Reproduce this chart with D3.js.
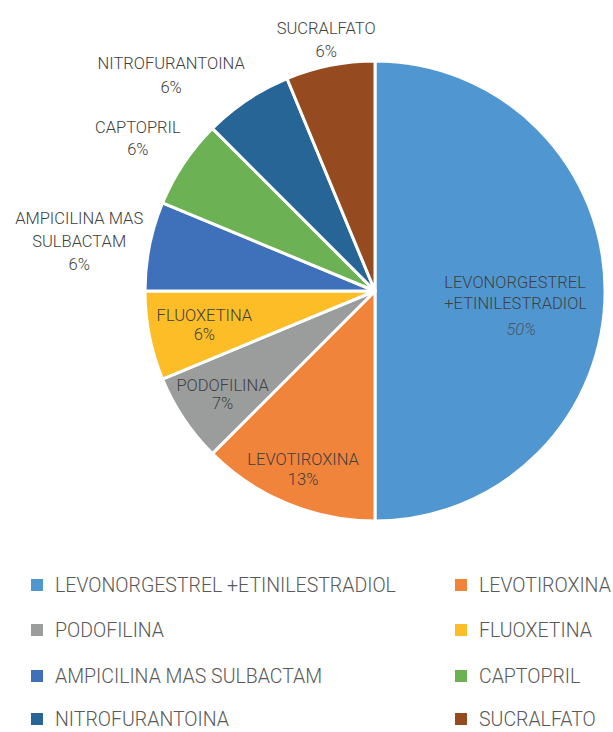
<!DOCTYPE html>
<html>
<head>
<meta charset="utf-8">
<script src="https://cdn.jsdelivr.net/npm/d3@7"></script>
<style>
  html, body { margin: 0; padding: 0; background: #fff; }
  svg { display: block; font-family: Roboto, "Noto Sans", sans-serif; font-weight: 300; }
</style>
</head>
<body>
<svg id="chart" width="613" height="732"></svg>
<script>
// Data
const categories = [
  "LEVONORGESTREL +ETINILESTRADIOL",
  "LEVOTIROXINA",
  "PODOFILINA",
  "FLUOXETINA",
  "AMPICILINA MAS SULBACTAM",
  "CAPTOPRIL",
  "NITROFURANTOINA",
  "SUCRALFATO"
];
const counts = [8, 2, 1, 1, 1, 1, 1, 1];
const pctLabels = ["50%", "13%", "7%", "6%", "6%", "6%", "6%", "6%"];
const colors = ["#5097d2", "#f0843b", "#9b9d9c", "#fcbd27", "#3f71ba", "#6db155", "#286597", "#964a1f"];

const cx = 375, cy = 291, radius = 230;

const svg = d3.select("#chart");
const g = svg.append("g").attr("transform", `translate(${cx},${cy})`);

const pie = d3.pie().sort(null).value((d) => d);
const arcs = pie(counts);
const arc = d3.arc().innerRadius(0).outerRadius(radius);

// Slices
g.selectAll("path")
  .data(arcs)
  .join("path")
  .attr("d", arc)
  .attr("fill", (d, i) => colors[i])
  .attr("stroke", "#fff")
  .attr("stroke-width", 3)
  .attr("stroke-linejoin", "round");

// Label placement: distance from center, angle nudge (deg), line height
const labelSpots = [
  { r: 147, da: 5.7, lh: 21, lines: ["LEVONORGESTREL", "+ETINILESTRADIOL"] },
  { r: 192, da: -0.5, lh: 20 },
  { r: 184, da: -0.3, lh: 18 },
  { r: 174, da: 0, lh: 19 },
  { r: 300, da: -1.7, lh: 23, lines: ["AMPICILINA MAS", "SULBACTAM"] },
  { r: 282, da: -1, lh: 22 },
  { r: 297, da: -9.6, lh: 24 },
  { r: 256, da: 0.25, lh: 23 }
];

// Excel cuts the big slice label at its box edge
svg.append("clipPath").attr("id", "clipBig")
  .append("rect").attr("x", 380).attr("y", 250).attr("width", 206).attr("height", 100);

const labels = g.append("g").attr("class", "labels");

arcs.forEach((d, i) => {
  const spot = labelSpots[i];
  const mid = (d.startAngle + d.endAngle) / 2 + spot.da * Math.PI / 180;
  const x = Math.sin(mid) * spot.r;
  const y = -Math.cos(mid) * spot.r;
  const lines = spot.lines || [categories[i]];
  const lh = spot.lh;
  const extra = i === 0 ? 5 : 0;
  const top = y - (lines.length * lh + extra) / 2;

  const t = labels.append("text")
    .attr("text-anchor", "middle")
    .attr("font-size", 16.5)
    .attr("fill", "#404040");

  if (i === 0) {
    // left aligned block, clipped on the right
    t.attr("clip-path", "url(#clipBig)").attr("transform", `translate(${-cx},${-cy})`);
    lines.forEach((line, k) => {
      t.append("tspan")
        .attr("text-anchor", "start")
        .attr("x", cx + x - 77)
        .attr("y", cy + top + k * lh)
        .attr("dy", "0.35em")
        .text(line);
    });
    t.append("tspan")
      .attr("x", cx + x)
      .attr("y", cy + top + lines.length * lh + extra)
      .attr("dy", "0.35em")
      .attr("font-style", "italic")
      .attr("fill", "#4a5563")
      .text(pctLabels[i]);
    return;
  }

  lines.forEach((line, k) => {
    t.append("tspan")
      .attr("x", x)
      .attr("y", top + k * lh)
      .attr("dy", "0.35em")
      .text(line);
  });
  t.append("tspan")
    .attr("x", x)
    .attr("y", top + lines.length * lh)
    .attr("dy", "0.35em")
    .text(pctLabels[i]);
});

// Legend
const legendCols = [31, 455];
const legendRows = [585, 630, 676, 719];
const legend = svg.append("g").attr("class", "legend");

categories.forEach((name, i) => {
  const lx = legendCols[i % 2];
  const ly = legendRows[Math.floor(i / 2)];
  const item = legend.append("g").attr("transform", `translate(${lx},${ly})`);
  item.append("rect")
    .attr("x", 0).attr("y", -6)
    .attr("width", 12).attr("height", 12)
    .attr("fill", colors[i]);
  item.append("text")
    .attr("x", 24).attr("y", 0).attr("dy", "0.35em")
    .attr("font-size", 19.5)
    .attr("fill", "#595959")
    .text(name);
});
</script>
</body>
</html>
